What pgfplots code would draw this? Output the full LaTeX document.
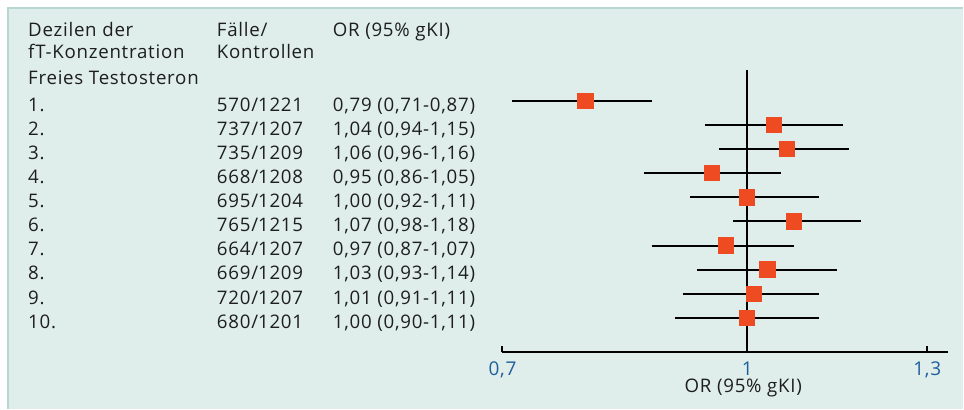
\documentclass[border=0pt]{standalone}
\usepackage{pgfplots}
\pgfplotsset{compat=1.18}
\usepackage{fontspec}
\setmainfont{Open Sans}[LetterSpace=4]
\definecolor{panelbg}{HTML}{DFEEEA}
\definecolor{panelborder}{HTML}{B8D7D2}
\definecolor{txt}{HTML}{1E1E1E}
\definecolor{tickblue}{HTML}{1F5E9C}
\definecolor{mk}{HTML}{EE4B22}
\begin{document}
\begin{tikzpicture}[x=1pt,y=1pt]
\fill[white] (0,0) rectangle (964,409);
\fill[panelbg] (7,0) rectangle (964,401);
\draw[panelborder, line width=2pt] (8,0) -- (8,401) -- (964,401);
\begin{scope}[every node/.style={text=txt, font=\fontsize{18.7}{22}\selectfont, anchor=base west, inner sep=0pt}]
\node at (28,372.3) {Dezilen der};
\node at (28,350.5) {fT-Konzentration};
\node at (217,372.3) {Fälle/};
\node at (217,350.5) {Kontrollen};
\node at (333,372.3) {OR (95\% gKI)};
\node at (28,324) {Freies Testosteron};
\foreach \i/\n/\c/\o [count=\k from 0] in {
 1./570\slash1221/{0,79 (0,71-0,87)}/,
 2./737\slash1207/{1,04 (0,94-1,15)}/,
 3./735\slash1209/{1,06 (0,96-1,16)}/,
 4./668\slash1208/{0,95 (0,86-1,05)}/,
 5./695\slash1204/{1,00 (0,92-1,11)}/,
 6./765\slash1215/{1,07 (0,98-1,18)}/,
 7./664\slash1207/{0,97 (0,87-1,07)}/,
 8./669\slash1209/{1,03 (0,93-1,14)}/,
 9./720\slash1207/{1,01 (0,91-1,11)}/,
 10./680\slash1201/{1,00 (0,90-1,11)}/}{
 \pgfmathsetmacro{\yb}{409-111.7-24.08*\k}
 \node at (28,\yb) {\i};
 \node at (217,\yb) {\n};
 \node at (333,\yb) {\c};
}
\end{scope}
\begin{axis}[
 at={(503pt,56.3pt)}, anchor=south west,
 scale only axis, width=446pt, height=282.7pt,
 xmode=log, xmin=0.7, xmax=1.34, ymin=-11.44, ymax=0.3,
 axis x line*=bottom, axis y line=none,
 x axis line style={line width=2pt, -, black},
 xtick={0.7,1,1.3}, xticklabels={{0,7},{1},{1,3}},
 minor xtick={}, xminorticks=false,
 tick align=inside, major tick length=6pt,
 xtick style={line width=2pt, black},
 /pgf/number format/assume math mode=true,
 xticklabel style={text=tickblue, font=\fontsize{19}{22}\selectfont, anchor=base, inner sep=0pt, yshift=-23.3pt},
 xlabel={OR (95\% gKI)},
 xlabel style={text=txt, font=\fontsize{18.7}{22}\selectfont, at={(axis description cs:0.5,0)}, anchor=base, inner sep=0pt, yshift=-40.3pt, xshift=18pt},
 clip=false,
]
\addplot[black, line width=2pt] coordinates {(1,0.3) (1,-11.44)};
\addplot[black, line width=2pt] coordinates {(0.71,-1) (0.87,-1)};
\addplot[black, line width=2pt] coordinates {(0.94,-2) (1.15,-2)};
\addplot[black, line width=2pt] coordinates {(0.96,-3) (1.16,-3)};
\addplot[black, line width=2pt] coordinates {(0.86,-4) (1.05,-4)};
\addplot[black, line width=2pt] coordinates {(0.92,-5) (1.11,-5)};
\addplot[black, line width=2pt] coordinates {(0.98,-6) (1.18,-6)};
\addplot[black, line width=2pt] coordinates {(0.87,-7) (1.07,-7)};
\addplot[black, line width=2pt] coordinates {(0.93,-8) (1.14,-8)};
\addplot[black, line width=2pt] coordinates {(0.91,-9) (1.11,-9)};
\addplot[black, line width=2pt] coordinates {(0.90,-10) (1.11,-10)};
\addplot[only marks, mark=square*, mark size=7.6pt, mark options={fill=mk, draw=mk, line width=0pt}] coordinates {
 (0.79,-1) (1.04,-2) (1.06,-3) (0.95,-4) (1.00,-5)
 (1.07,-6) (0.97,-7) (1.03,-8) (1.01,-9) (1.00,-10)};
\end{axis}
\end{tikzpicture}
\end{document}
